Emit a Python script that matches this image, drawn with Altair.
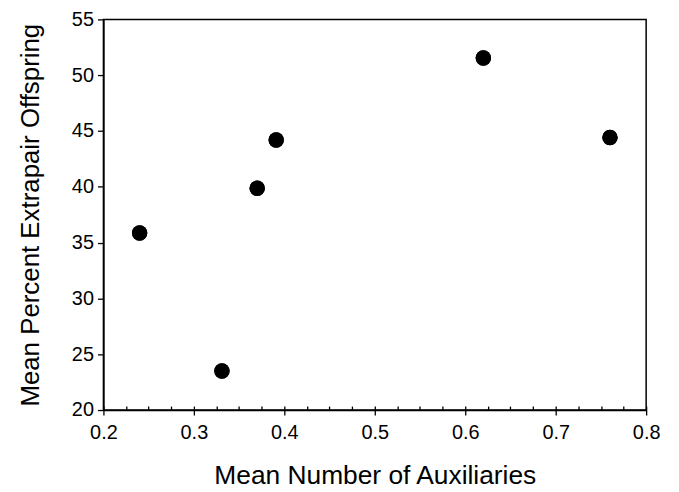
import altair as alt
import pandas as pd

aux = [0.24, 0.331, 0.370, 0.391, 0.620, 0.760]
epo = [35.86, 23.5, 39.87, 44.2, 51.54, 44.42]

x_major = [0.2, 0.3, 0.4, 0.5, 0.6, 0.7, 0.8]
x_minor = [round(0.2 + 0.025 * i, 3) for i in range(25)]
y_major = [20, 25, 30, 35, 40, 45, 50, 55]

df = pd.DataFrame({"aux": aux, "epo": epo})

FONT = "Liberation Sans"

xscale = alt.Scale(domain=[0.2, 0.8], nice=False, zero=False)
yscale = alt.Scale(domain=[20, 55], nice=False, zero=False)

points = alt.Chart(df).mark_circle(size=240, color="black", opacity=1).encode(
    x=alt.X("aux:Q", scale=xscale,
            axis=alt.Axis(values=x_major, format=".1f", title="Mean Number of Auxiliaries",
                          tickSize=5, tickWidth=1.3, tickColor="black",
                          domainColor="black", domainWidth=1.5,
                          labelFontSize=20, labelColor="black", labelFont=FONT,
                          labelFlush=False, labelOverlap=False,
                          labelPadding=8, titleFont=FONT, titleFontSize=26.5,
                          titleFontWeight="normal", titleColor="black", titlePadding=20,
                          grid=False, orient="bottom")),
    y=alt.Y("epo:Q", scale=yscale,
            axis=alt.Axis(values=y_major, format="d", title="Mean Percent Extrapair Offspring",
                          tickSize=6, tickWidth=1.3, tickColor="black",
                          domainColor="black", domainWidth=1.5,
                          labelFontSize=20, labelColor="black", labelFont=FONT,
                          labelFlush=False, labelOverlap=False,
                          labelPadding=4, titleFont=FONT, titleFontSize=26,
                          titleFontWeight="normal", titleColor="black", titlePadding=28,
                          grid=False)),
)

minor = alt.Chart(df).mark_circle(size=240, color="black", opacity=1).encode(
    x=alt.X("aux:Q", scale=xscale,
            axis=alt.Axis(values=x_minor, labels=False, title=None, domain=False,
                          tickSize=4, tickWidth=1.3, tickColor="black", offset=-4,
                          grid=False, orient="bottom")),
    y=alt.Y("epo:Q", scale=yscale),
)

chart = alt.layer(points, minor).resolve_axis(x="independent").properties(
    width=546, height=393,
    background="white",
    autosize=alt.AutoSizeParams(type="none"),
    padding={"left": 96, "top": 10, "right": 25, "bottom": 82},
).configure_view(stroke="black", strokeWidth=1.5)

chart.save("out.html", embed_options={"renderer": "svg", "actions": False})
